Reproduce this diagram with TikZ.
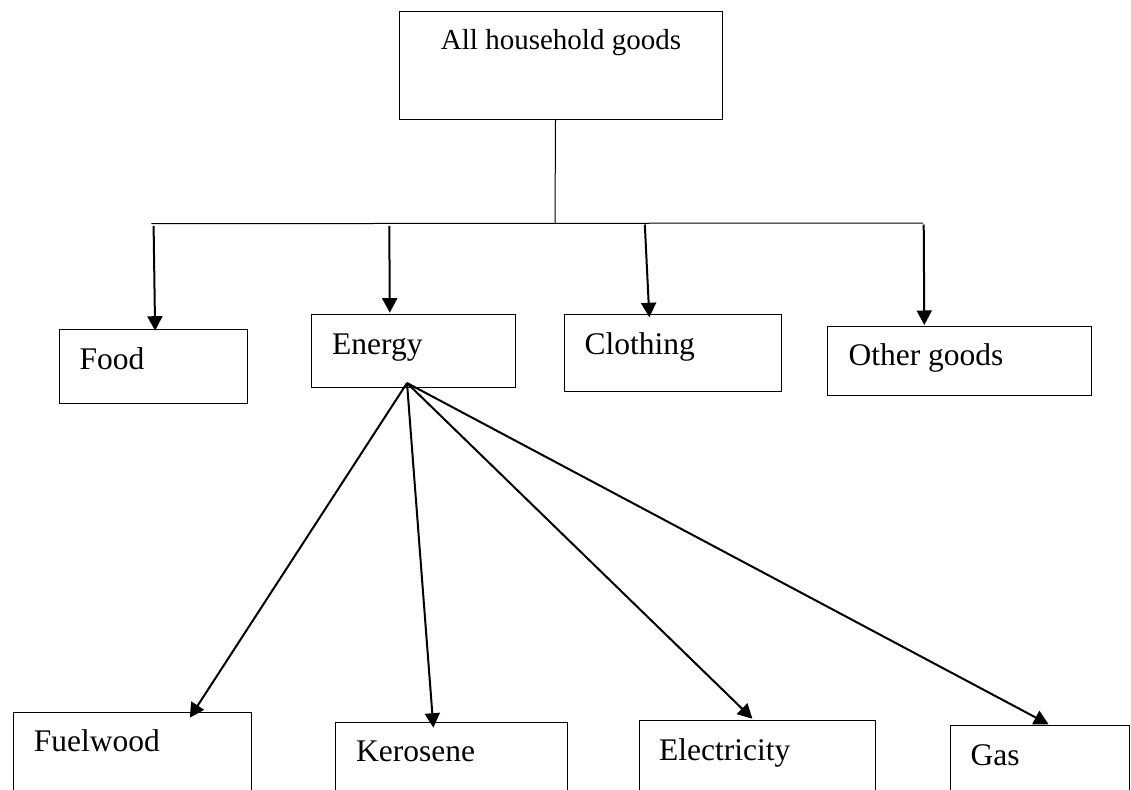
\documentclass[tikz,border=0pt]{standalone}
\usepackage{fontspec}
\setmainfont{Liberation Serif}
\usetikzlibrary{arrows.meta}

\tikzset{
  box/.style={draw, rectangle, line width=1pt, inner sep=0pt, anchor=north west},
  lbl/.style={inner sep=0pt, anchor=base west, font=\fontsize{31.5}{36}\selectfont},
  toplbl/.style={inner sep=0pt, anchor=base, font=\fontsize{29}{34}\selectfont},
  thin line/.style={line width=1pt},
  arr/.style={line width=2pt, -{Triangle[width=15pt,length=14.5pt]}},
}

\begin{document}
\begin{tikzpicture}[x=1pt, y=-1pt]
  \useasboundingbox (0,0) rectangle (1131,789);
  \clip (0,0) rectangle (1131,789);

  % root box
  \node[box, minimum width=323pt, minimum height=108pt] (root) at (399,11) {};
  \node[toplbl] (rootlbl) at (561,49.3) {All household goods};

  % first level
  \node[box, minimum width=188.2pt, minimum height=74pt] (food) at (58.9,329.3) {};
  \node[box, minimum width=203.6pt, minimum height=73.3pt] (energy) at (311.4,313.7) {};
  \node[box, minimum width=217.5pt, minimum height=77.3pt] (cloth) at (563.7,313.7) {};
  \node[box, minimum width=263.8pt, minimum height=69.6pt] (other) at (827.2,325.7) {};
  \node[lbl] (foodlbl) at (79.3,369.3) {Food};
  \node[lbl] (energylbl) at (332,354.3) {Energy};
  \node[lbl] (clothlbl) at (584.5,354) {Clothing};
  \node[lbl] (otherlbl) at (848.3,365) {Other goods};

  % energy sources (cut off at the bottom edge)
  \node[box, minimum width=238.2pt, minimum height=120pt] (fuel) at (13.2,712) {};
  \node[box, minimum width=232pt, minimum height=120pt] (kero) at (334.6,721.7) {};
  \node[box, minimum width=236pt, minimum height=120pt] (elec) at (639.4,720.3) {};
  \node[box, minimum width=179.1pt, minimum height=120pt] (gas) at (949.7,725) {};
  \node[lbl] (fuellbl) at (33.6,751.7) {Fuelwood};
  \node[lbl] (kerolbl) at (356,761.7) {Kerosene};
  \node[lbl] (eleclbl) at (659,760) {Electricity};
  \node[lbl] (gaslbl) at (970.4,765) {Gas};

  % distribution bar
  \coordinate (hub) at (555,223);
  \coordinate (barL) at (151.4,223.7);
  \coordinate (barR) at (923,223);
  \draw[thin line] ([xshift=-5.5pt]root.south) -- (hub);
  \draw[thin line] (barL) -- (barR);

  \coordinate (f0) at (153.6,226);
  \coordinate (e0) at (389.3,226);
  \coordinate (c0) at (644.8,224.5);
  \coordinate (o0) at (923.7,224.5);
  \draw[arr] (f0) -- ([shift={(1.6,1.4)}]food.north);
  \draw[arr] (e0) -- ([shift={(-23.9,-1)}]energy.north);
  \draw[arr] (c0) -- ([shift={(-23.6,3.6)}]cloth.north);
  \draw[arr] (o0) -- ([shift={(-35.3,-0.7)}]other.north);

  % fan from energy
  \coordinate (fan) at (407,383);
  \draw[arr] (fan) -- ([shift={(57,5.7)}]fuel.north);
  \draw[arr] (fan) -- ([shift={(-17.7,6)}]kero.north);
  \draw[arr] (fan) -- ([shift={(-5.5,-1.6)}]elec.north);
  \draw[arr] (fan) -- ([shift={(8.75,-0.7)}]gas.north);
\end{tikzpicture}
\end{document}
